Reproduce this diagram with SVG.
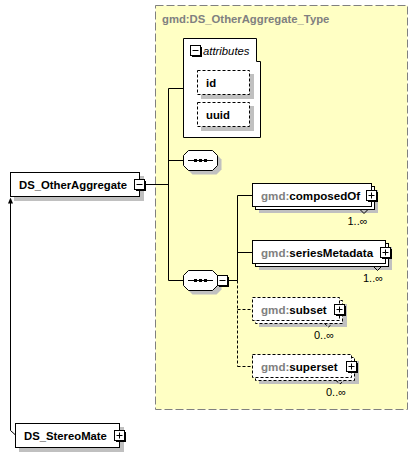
<svg xmlns="http://www.w3.org/2000/svg" width="418" height="457" viewBox="0 0 418 457">
<style>
text{font-family:"Liberation Sans",Arial,sans-serif;fill:#000}
.b{font-weight:bold;font-size:11.3px}
.el{font-weight:bold;font-size:11.6px}
.ns{fill:#808080}
.it{font-style:italic;font-size:11.3px}
.occ{font-size:11px}
.box{fill:#fff;stroke:#000;stroke-width:1}
.dbox{fill:#fff;stroke:#000;stroke-width:1;stroke-dasharray:3,2}
.sh{fill:#c0c0c0}
.ln{fill:none;stroke:#000;stroke-width:1}
.dl{fill:none;stroke:#000;stroke-width:1;stroke-dasharray:3,2}
</style>
<defs>
<g id="plus">
<rect x="2" y="2" width="10" height="10" fill="#000"/>
<rect x="0.5" y="0.5" width="10" height="10" fill="#fff" stroke="#000"/>
<path d="M2.5 5.5h6M5.5 2.5v6" stroke="#000" fill="none"/>
</g>
<g id="minus">
<rect x="2" y="2" width="10" height="10" fill="#000"/>
<rect x="0.5" y="0.5" width="10" height="10" fill="#fff" stroke="#000"/>
<path d="M2.5 5.5h6" stroke="#000" fill="none"/>
</g>
<g id="seqsym">
<path d="M5.5 0.5H29.5L34.5 5.5V15.5L29.5 20.5H5.5L0.5 15.5V5.5Z"/>
</g>
</defs>

<g id="type-container">
<rect x="155.5" y="5.5" width="252" height="404" fill="#FFFFC4" stroke="#808080" stroke-dasharray="8,3"/>
<text x="162" y="23" class="b ns">gmd:DS_OtherAggregate_Type</text>
</g>

<g id="connectors">
<path class="ln" d="M146 184.5H168.5M168.5 88.5V280.5M168.5 88.5H183.5M168.5 160.5H183.5M168.5 280.5H183.5"/>
<path class="ln" d="M228 280.5H237.5M237.5 195.5V280.5M237.5 195.5H252.5M237.5 252.5H252.5"/>
<path class="dl" d="M237.5 280.5V366.5M237.5 309.5H252.5M237.5 366.5H252.5"/>
<path class="ln" d="M10.5 203V430.5L15.5 435"/>
<polygon points="10.5,197.5 8,203.5 13,203.5" fill="#000"/>
</g>

<g id="DS_OtherAggregate">
<rect class="sh" x="14" y="176" width="130" height="25"/>
<rect class="box" x="10.5" y="172.5" width="129" height="24"/>
<text x="19" y="188.5" class="b">DS_OtherAggregate</text>
<use href="#minus" x="134" y="179"/>
</g>

<g id="DS_StereoMate">
<rect class="sh" x="19" y="427" width="105" height="25"/>
<rect class="box" x="15.5" y="423.5" width="104" height="24"/>
<text x="24" y="439.5" class="b">DS_StereoMate</text>
<use href="#plus" x="114" y="430"/>
</g>

<g id="attributes">
<path class="box" d="M183.5 38.5H256.5V61.5H260.5V137.5H183.5Z"/>
<use href="#minus" x="190" y="45"/>
<text x="203" y="54.5" class="it">attributes</text>
</g>

<g id="attr-id">
<rect class="sh" x="201" y="74" width="53" height="25"/>
<rect class="dbox" x="197.5" y="70.5" width="52" height="24"/>
<text x="206" y="86.5" class="b">id</text>
</g>

<g id="attr-uuid">
<rect class="sh" x="201" y="106" width="53" height="25"/>
<rect class="dbox" x="197.5" y="102.5" width="52" height="24"/>
<text x="206" y="118.5" class="b">uuid</text>
</g>

<g id="sequence1">
<use href="#seqsym" x="187" y="154" fill="#c0c0c0"/>
<use href="#seqsym" x="183" y="150" fill="#fff" stroke="#000"/>
<path class="ln" d="M188 160.5H213"/>
<rect x="194" y="159" width="3" height="3" fill="#000"/>
<rect x="199" y="159" width="3" height="3" fill="#000"/>
<rect x="204" y="159" width="3" height="3" fill="#000"/>
</g>

<g id="sequence2">
<use href="#seqsym" x="187" y="274" fill="#c0c0c0"/>
<use href="#seqsym" x="183" y="270" fill="#fff" stroke="#000"/>
<path class="ln" d="M188 280.5H213"/>
<rect x="194" y="279" width="3" height="3" fill="#000"/>
<rect x="199" y="279" width="3" height="3" fill="#000"/>
<rect x="204" y="279" width="3" height="3" fill="#000"/>
<use href="#minus" x="217" y="275"/>
</g>

<g id="composedOf">
<rect class="sh" x="259" y="190" width="119" height="23"/>
<rect class="box" x="255.5" y="186.5" width="119" height="23"/>
<rect class="box" x="252.5" y="183.5" width="119" height="23"/>
<polyline class="ln" points="360,209.5 364,213.5 368,209.5"/>
<text x="261" y="199.5" class="el"><tspan class="ns">gmd:</tspan>composedOf</text>
<use href="#plus" x="366" y="190"/>
<text x="347.5" y="224.5" class="occ">1..∞</text>
</g>

<g id="seriesMetadata">
<rect class="sh" x="259" y="247" width="133" height="23"/>
<rect class="box" x="255.5" y="243.5" width="133" height="23"/>
<rect class="box" x="252.5" y="240.5" width="133" height="23"/>
<polyline class="ln" points="373.5,266.5 377.5,270.5 381.5,266.5"/>
<text x="261" y="256.5" class="el"><tspan class="ns">gmd:</tspan>seriesMetadata</text>
<use href="#plus" x="380" y="247"/>
<text x="363" y="281.5" class="occ">1..∞</text>
</g>

<g id="subset">
<rect class="sh" x="259" y="304" width="88" height="23"/>
<rect class="dbox" x="255.5" y="300.5" width="87" height="23"/>
<rect class="dbox" x="252.5" y="297.5" width="87" height="23"/>
<polyline class="dl" points="324.5,323.5 328.5,327 332.5,323.5"/>
<text x="261" y="313.5" class="el"><tspan class="ns">gmd:</tspan>subset</text>
<use href="#plus" x="334" y="304"/>
<text x="314" y="338.5" class="occ">0..∞</text>
</g>

<g id="superset">
<rect class="sh" x="259" y="361" width="100" height="23"/>
<rect class="dbox" x="255.5" y="357.5" width="99" height="23"/>
<rect class="dbox" x="252.5" y="354.5" width="99" height="23"/>
<polyline class="dl" points="336,380.5 340,384 344,380.5"/>
<text x="261" y="370.5" class="el"><tspan class="ns">gmd:</tspan>superset</text>
<use href="#plus" x="346" y="361"/>
<text x="326" y="395.5" class="occ">0..∞</text>
</g>
</svg>
